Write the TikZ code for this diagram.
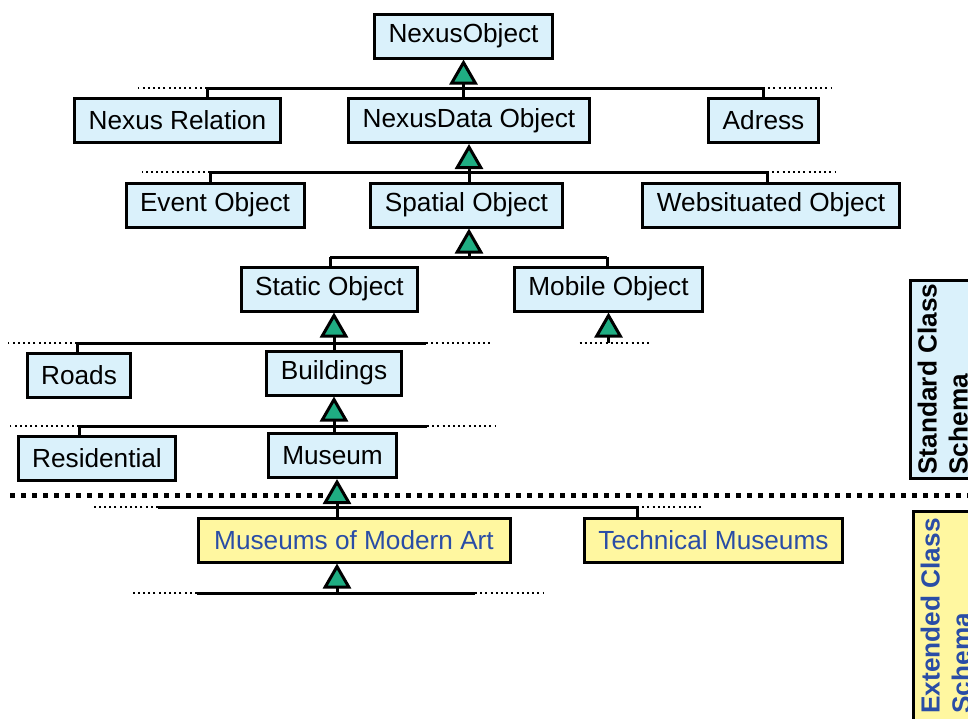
\documentclass[tikz,border=0pt]{standalone}
\usepackage{fontspec}
\setmainfont{Liberation Sans}
\usetikzlibrary{arrows.meta}

\definecolor{stdblue}{RGB}{218,241,251}
\definecolor{extyellow}{RGB}{255,247,160}
\definecolor{inhgreen}{RGB}{31,173,130}
\definecolor{extblue}{RGB}{42,77,166}

\begin{document}
\begin{tikzpicture}[x=0.5pt,y=-0.5pt,line width=1.5pt,
  font=\fontsize{13.1pt}{15.5pt}\selectfont,
  >={Triangle[width=14pt,length=12.5pt,fill=inhgreen]},
  cls/.style={draw,fill=stdblue,inner xsep=7pt,minimum height=22pt},
  extcls/.style={cls,fill=extyellow,text=extblue},
  inh/.style={->},
  more/.style={line width=1pt,dash pattern=on 1pt off 1.6pt},
  layer/.style={line width=2.5pt,dash pattern=on 2.5pt off 3pt},
  sidebox/.style={draw,rotate=90,inner sep=0pt,minimum height=50pt},
  sidelabel/.style={rotate=90,anchor=north west,align=left,inner sep=0pt,
    font=\fontsize{13.1pt}{15.5pt}\selectfont\bfseries}]

\useasboundingbox (0,0) rectangle (968,718);
\clip (0,0) rectangle (968,718);

% classes
\node[cls] (nexus) at (463.5,36) {NexusObject};
\node[cls] (relation) at (177.5,120.5) {Nexus Relation};
\node[cls] (data) at (469,120.5) {NexusData Object};
\node[cls] (adress) at (763.5,120.5) {Adress};
\node[cls] (event) at (215,205) {Event Object};
\node[cls] (spatial) at (466.5,205) {Spatial Object};
\node[cls] (web) at (771,205) {Websituated Object};
\node[cls] (static) at (329.5,289) {Static Object};
\node[cls] (mobile) at (608.5,289) {Mobile Object};
\node[cls] (roads) at (79,375) {Roads};
\node[cls] (buildings) at (334,373) {Buildings};
\node[cls] (residential) at (97,458) {Residential};
\node[cls] (museum) at (332.5,455.5) {Museum};
\node[extcls,minimum width=156pt] (moma) at (354,540) {Museums of Modern Art};
\node[extcls] (technical) at (713.5,540.5) {Technical Museums};

% schema labels
\node[sidebox,fill=stdblue,anchor=north west,minimum width=99pt] (stdbox) at (908.5,479.5) {};
\node[sidelabel] (stdlabel) at (916,476) {Standard Class\\Schema};
\node[sidebox,fill=extyellow,anchor=north east,minimum width=150pt] (extbox) at (911.5,509.5) {};
\node[sidelabel,text=extblue] (extlabel) at (919,715) {Extended Class\\Schema};

% level 1
\coordinate (b1l) at (207,88);
\coordinate (b1r) at (763,88);
\draw (b1l) -- (b1r);
\draw[more] (b1l) -- ++(-69,0) (b1r) -- ++(69,0);
\draw (b1l) -- (b1l |- relation.north);
\draw (b1r) -- (b1r |- adress.north);
\draw[inh] (data.north -| nexus.south) -- (nexus.south);

% level 2
\coordinate (b2l) at (210,172);
\coordinate (b2r) at (767,172);
\draw (b2l) -- (b2r);
\draw[more] (b2l) -- ++(-68,0) (b2r) -- ++(68,0);
\draw (b2l) -- (b2l |- event.north);
\draw (b2r) -- (b2r |- web.north);
\draw[inh] (spatial.north -| data.south) -- (data.south);

% level 3
\coordinate (b3l) at (330,257);
\coordinate (b3r) at (607,257);
\coordinate (b3m) at (469,257);
\draw (b3l) -- (b3r);
\draw (b3l) -- (b3l |- static.north);
\draw (b3r) -- (b3r |- mobile.north);
\draw[inh] (b3m) -- (b3m |- spatial.south);

% below mobile
\coordinate (b4m) at (mobile.south |- 0,343);
\draw[more] (b4m) ++(-29,0) -- ++(69,0);
\draw[inh] (b4m) -- (mobile.south);

% level 4
\coordinate (b4l) at (77,343);
\coordinate (b4r) at (426,343);
\draw (b4l) -- (b4r);
\draw[more] (b4l) -- ++(-69,0) (b4r) -- ++(67,0);
\draw (b4l) -- (b4l |- roads.north);
\draw[inh] (buildings.north) -- (buildings.north |- static.south);

% level 5
\coordinate (b5l) at (79,426);
\coordinate (b5r) at (427,426);
\draw (b5l) -- (b5r);
\draw[more] (b5l) -- ++(-69,0) (b5r) -- ++(68,0);
\draw (b5l) -- (b5l |- residential.north);
\draw[inh] (museum.north -| buildings.south) -- (buildings.south);

% standard / extended border
\draw[layer] (10,495) -- (968,495);

% level 6
\coordinate (b6l) at (158,507);
\coordinate (b6r) at (637,507);
\coordinate (b6m) at (337,507);
\draw (b6l) -- (b6r);
\draw[more] (b6l) -- ++(-65,0) (b6r) -- ++(66,0);
\draw (b6r) -- (b6r |- technical.north);
\draw[inh] (moma.north -| b6m) -- (museum.south -| b6m);

% level 7
\coordinate (b7l) at (197,593);
\coordinate (b7r) at (475,593);
\coordinate (b7m) at (337,593);
\draw (b7l) -- (b7r);
\draw[more] (b7l) -- ++(-65,0) (b7r) -- ++(68,0);
\draw[inh] (b7m) -- (b7m |- moma.south);
\end{tikzpicture}
\end{document}
